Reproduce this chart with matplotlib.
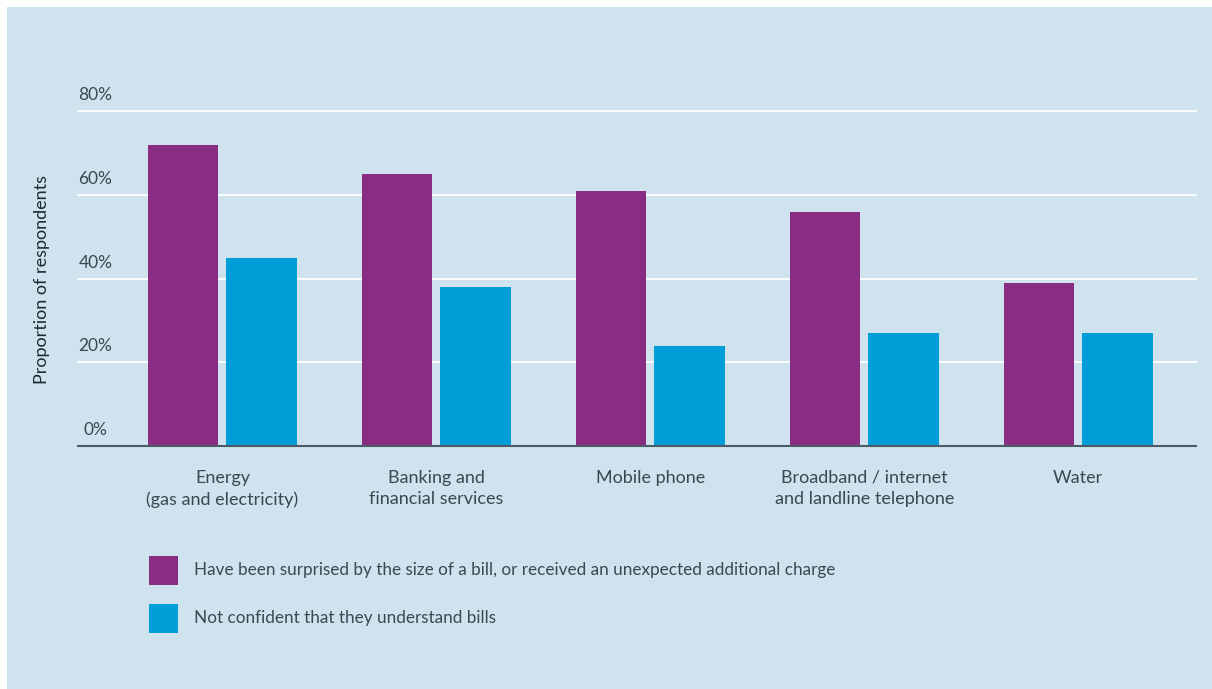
import numpy as np
import matplotlib.pyplot as plt
from matplotlib.patches import Rectangle
from matplotlib.transforms import blended_transform_factory

categories = ["Energy\n(gas and electricity)", "Banking and\nfinancial services", "Mobile phone",
              "Broadband / internet\nand landline telephone", "Water"]
surprised = [72, 65, 61, 56, 39]
not_confident = [45, 38, 24, 27, 27]
series_labels = ["Have been surprised by the size of a bill, or received an unexpected additional charge",
                 "Not confident that they understand bills"]
yticks = [0, 20, 40, 60, 80]

BG = "#cee3ee"
PURPLE = "#8b2c84"
BLUE = "#009ed8"
TEXT = "#3b4852"

plt.rcParams['font.family'] = ['Lato', 'DejaVu Sans']

W, H = 1212, 689
fig = plt.figure(figsize=(W / 100, H / 100), dpi=100, facecolor="white")
# light blue panel, white border top/left
fig.patches.append(Rectangle((7 / W, 0), 1, 1 - 7 / H, transform=fig.transFigure,
                             facecolor=BG, edgecolor="none", zorder=-5))

ax = fig.add_axes([78 / W, 1 - 446 / H, (1196 - 78) / W, (446 - 111) / H])
ax.set_facecolor("none")

x = np.arange(len(categories))
w = 0.331
off = 0.184
ax.bar(x - off, surprised, w, color=PURPLE, zorder=3)
ax.bar(x + off, not_confident, w, color=BLUE, zorder=3)

ax.set_xlim(-0.675, 4.55)
ax.set_ylim(0, 80)
for t in yticks[1:]:
    ax.axhline(t, color="white", lw=1.3, zorder=1, clip_on=False)

for s in ["top", "right", "left"]:
    ax.spines[s].set_visible(False)
ax.spines["bottom"].set_color("#4d5b66")
ax.spines["bottom"].set_linewidth(1.5)
ax.spines["bottom"].set_zorder(4)

ax.set_yticks([])
ax.set_xticks(x)
ax.set_xticklabels(categories, fontsize=13, color=TEXT, linespacing=1.45)
ax.tick_params(axis="x", length=0, pad=17)

# y tick labels sit above the gridlines
trans = blended_transform_factory(fig.transFigure, ax.transData)
for t in yticks:
    ax.text(95.5 / W, t + 1.9, f"{t}%", transform=trans, ha="center", va="bottom",
            fontsize=12.5, color=TEXT)

fig.text(42 / W, 1 - 280 / H, "Proportion of respondents", rotation=90, ha="center",
         va="center", fontsize=13, color="#1e2a33")

# legend
for i, (lab, col) in enumerate(zip(series_labels, [PURPLE, BLUE])):
    y0 = 556 + i * 48
    fig.patches.append(Rectangle((149 / W, 1 - (y0 + 29) / H), 29 / W, 29 / H,
                                 transform=fig.transFigure, facecolor=col, edgecolor="none"))
    fig.text(194 / W, 1 - (y0 + 14.5) / H, lab, ha="left", va="center",
             fontsize=12.3, color=TEXT)

fig.savefig("out.png", dpi=100, facecolor=fig.get_facecolor())
